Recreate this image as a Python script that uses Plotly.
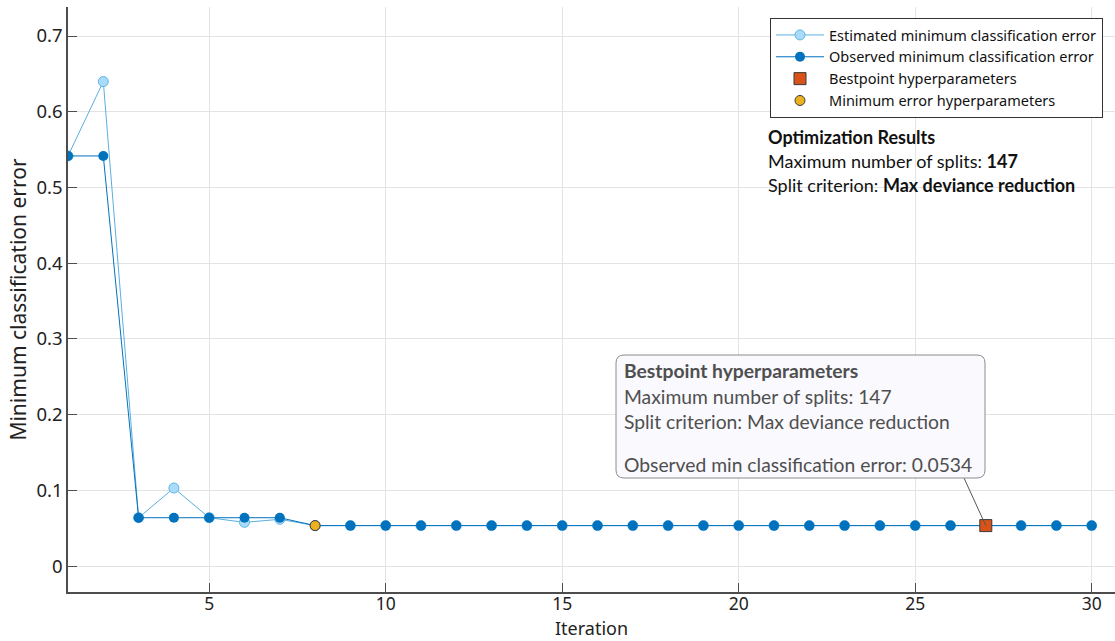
import plotly.graph_objects as go

# Bayesian optimisation trace: minimum classification error per iteration
iterations = list(range(1, 31))
estimated_min_error = [0.5416, 0.6398, 0.0638, 0.1030, 0.0638, 0.0577, 0.0617] + [0.0534] * 23
observed_min_error = [0.5416, 0.5416, 0.0638, 0.0638, 0.0638, 0.0638, 0.0638] + [0.0534] * 23

best_iteration = 27
best_error = 0.0534
min_error_iteration = 8
min_error_value = 0.0534

max_splits = 147
split_criterion = "Max deviance reduction"

x_ticks = [5, 10, 15, 20, 25, 30]
y_ticks = [0, 0.1, 0.2, 0.3, 0.4, 0.5, 0.6, 0.7]
y_tick_text = ["0", "0.1", "0.2", "0.3", "0.4", "0.5", "0.6", "0.7"]

W, H = 1115, 641
M_L, M_R, M_T, M_B = 68, 0, 7, 49
PW, PH = W - M_L - M_R, H - M_T - M_B
X_RANGE = [1, 30.66]
Y_RANGE = [-0.0343, 0.7383]


def px(x):
    return (x - M_L) / PW


def py(y):
    return (H - M_B - y) / PH


def data_to_paper(xv, yv):
    return ((xv - X_RANGE[0]) / (X_RANGE[1] - X_RANGE[0]),
            (yv - Y_RANGE[0]) / (Y_RANGE[1] - Y_RANGE[0]))


TICK_FONT = "Noto Sans"
TEXT_FONT = "Lato"

fig = go.Figure()

fig.add_trace(go.Scatter(
    x=iterations, y=estimated_min_error, mode="lines+markers",
    name="Estimated minimum classification error",
    line=dict(color="#5AAEE0", width=1),
    marker=dict(size=10, color="#A8DCFA", line=dict(color="#62B4E6", width=1)),
))
fig.add_trace(go.Scatter(
    x=iterations, y=observed_min_error, mode="lines+markers",
    name="Observed minimum classification error",
    line=dict(color="#0072BD", width=1),
    marker=dict(size=10, color="#0072BD", line=dict(color="#0072BD", width=0)),
))
fig.add_trace(go.Scatter(
    x=[best_iteration], y=[best_error], mode="markers",
    name="Bestpoint hyperparameters",
    marker=dict(symbol="square", size=12, color="#D95319", line=dict(color="#3a3a3a", width=1)),
))
fig.add_trace(go.Scatter(
    x=[min_error_iteration], y=[min_error_value], mode="markers",
    name="Minimum error hyperparameters",
    marker=dict(size=10, color="#EDB120", line=dict(color="#3a3a3a", width=1)),
))

# Callout box for the best point
bx0, bx1, by0, by1 = px(616), px(985), py(478), py(355)
rx, ry = 8 / PW, 8 / PH
path = (
    f"M {bx0 + rx},{by1} L {bx1 - rx},{by1} Q {bx1},{by1} {bx1},{by1 - ry} "
    f"L {bx1},{by0 + ry} Q {bx1},{by0} {bx1 - rx},{by0} "
    f"L {bx0 + rx},{by0} Q {bx0},{by0} {bx0},{by0 + ry} "
    f"L {bx0},{by1 - ry} Q {bx0},{by1} {bx0 + rx},{by1} Z"
)
best_px, best_py = data_to_paper(best_iteration, best_error)
shapes = [
    dict(type="line", xref="paper", yref="paper", x0=px(964), y0=py(478),
         x1=best_px, y1=best_py,
         line=dict(color="#555555", width=1), layer="above"),
    dict(type="path", xref="paper", yref="paper", path=path,
         fillcolor="#F9F9FE", line=dict(color="#8C8C8C", width=1), layer="above"),
]

annotations = []
info_lines = [
    ("<b>Optimization Results</b>", 137),
    (f"Maximum number of splits: <b>{max_splits}</b>", 161),
    (f"Split criterion: <b>{split_criterion}</b>", 185),
]
for txt, ypix in info_lines:
    annotations.append(dict(
        text=txt, xref="paper", yref="paper", x=px(766), y=py(ypix),
        xanchor="left", yanchor="middle", showarrow=False, align="left",
        font=dict(family=TEXT_FONT, size=18, color="#111111"),
    ))

callout_lines = [
    ("<b>Bestpoint hyperparameters</b>", 370),
    (f"Maximum number of splits: {max_splits}", 396),
    (f"Split criterion: {split_criterion}", 422),
    (f"Observed min classification error: {best_error:.4f}", 464),
]
for txt, ypix in callout_lines:
    annotations.append(dict(
        text=txt, xref="paper", yref="paper", x=px(622), y=py(ypix),
        xanchor="left", yanchor="middle", showarrow=False, align="left",
        font=dict(family=TEXT_FONT, size=19.3, color="#4F4F4F"),
    ))

# x-axis title placed just under the tick labels, resting on the bottom edge
annotations.append(dict(
    text="Iteration", xref="paper", yref="paper", x=0.5, y=py(641),
    xanchor="center", yanchor="bottom", showarrow=False, borderpad=0,
    font=dict(family=TICK_FONT, size=18, color="#222222"),
))

fig.update_layout(
    width=W, height=H,
    margin=dict(l=M_L, r=M_R, t=M_T, b=M_B),
    paper_bgcolor="white", plot_bgcolor="white",
    showlegend=True,
    legend=dict(
        x=px(770), y=py(18), xanchor="left", yanchor="top",
        bgcolor="white", bordercolor="#333333", borderwidth=1,
        font=dict(family="Noto Sans", size=14.5, color="#111111"),
        itemwidth=48, tracegroupgap=0,
    ),
    xaxis=dict(
        range=X_RANGE, tickvals=x_ticks, ticks="inside", ticklen=9,
        tickcolor="#4D4D4D", showgrid=True, gridcolor="#E3E3E3", gridwidth=1,
        showline=True, linecolor="#4D4D4D", linewidth=1.5, zeroline=False,
        tickfont=dict(family=TICK_FONT, size=17.5, color="#222222"),
        ticklabelstandoff=-5,
    ),
    yaxis=dict(
        range=Y_RANGE, tickvals=y_ticks, ticktext=y_tick_text,
        ticks="inside", ticklen=9, tickcolor="#4D4D4D",
        showgrid=True, gridcolor="#E3E3E3", gridwidth=1,
        showline=True, linecolor="#4D4D4D", linewidth=1.5, zeroline=False,
        tickfont=dict(family=TICK_FONT, size=18.5, color="#222222"),
        title=dict(text="Minimum classification error", standoff=4,
                   font=dict(family=TICK_FONT, size=21, color="#222222")),
    ),
    shapes=shapes,
    annotations=annotations,
)

fig.write_html("out.html")
